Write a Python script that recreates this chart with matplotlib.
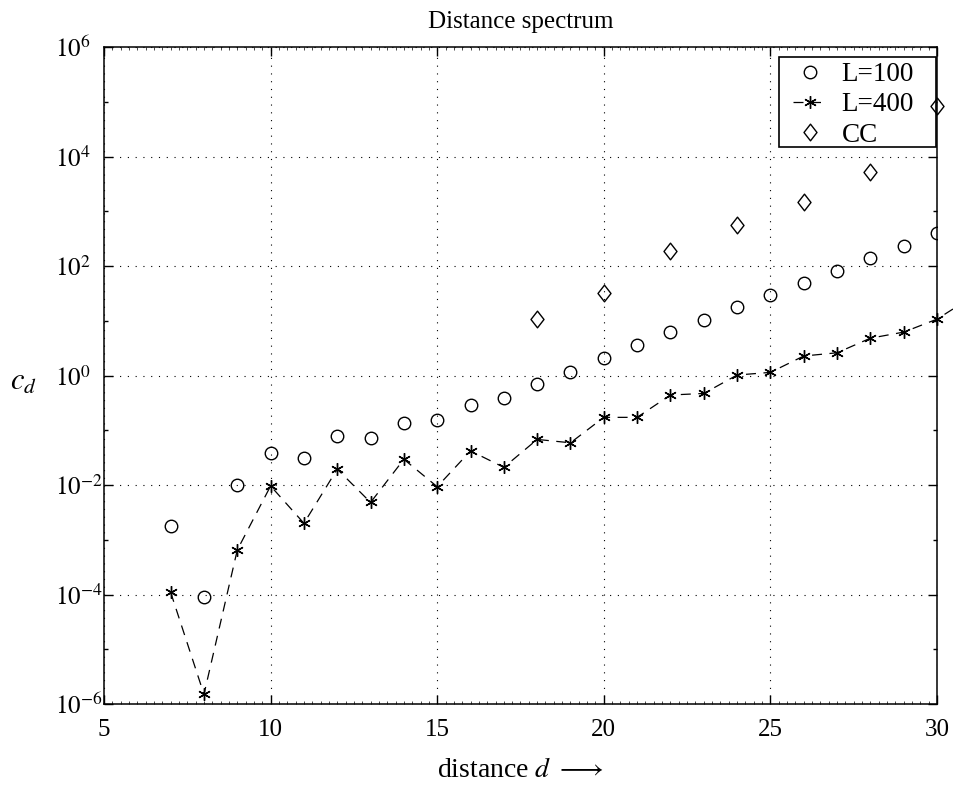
import numpy as np
import matplotlib
matplotlib.use("Agg")
import matplotlib.pyplot as plt
from matplotlib.ticker import FixedLocator, NullFormatter, MultipleLocator
from matplotlib.path import Path
from matplotlib.patches import Rectangle

plt.rcParams['font.family'] = ['Liberation Serif', 'DejaVu Serif']
plt.rcParams['mathtext.fontset'] = 'stix'

d_L100 = list(range(7, 31))
c_L100 = [1.8e-3, 9e-5, 1.0e-2, 0.038, 0.031, 0.079, 0.073, 0.137, 0.155, 0.285,
          0.385, 0.69, 1.17, 2.1, 3.6, 6.2, 10.5, 17.5, 29, 48, 82, 140, 235, 405]

d_L400 = list(range(7, 32))
c_L400 = [1.1e-4, 1.5e-6, 6.5e-4, 9.6e-3, 2.0e-3, 0.0195, 4.8e-3, 0.0295, 9.3e-3, 0.042,
          0.021, 0.068, 0.059, 0.172, 0.172, 0.44, 0.47, 1.02, 1.14, 2.27,
          2.6, 4.8, 6.2, 10.7, 26]

d_CC = [18, 20, 22, 24, 26, 28, 30]
c_CC = [10.7, 31.6, 190, 560, 1450, 5150, 85000]

ytick_exps = list(range(-6, 7, 2))

W, H = 954, 785
diamond = Path([(0, 1), (0.78, 0), (0, -1), (-0.78, 0), (0, 1)],
               [Path.MOVETO, Path.LINETO, Path.LINETO, Path.LINETO, Path.CLOSEPOLY])

fig = plt.figure(figsize=(W/100, H/100), dpi=100)
ax = fig.add_axes([104/W, 1-704/H, (937-104)/W, (704-47)/H])

ax.plot(d_L100, c_L100, linestyle='none', marker='o', markersize=9,
        markerfacecolor='none', markeredgecolor='black', markeredgewidth=1.0, label='L=100')
ax.plot(d_L400, c_L400, linestyle=(0, (8, 6)), color='black', linewidth=0.9,
        marker=(6, 2, 0), markersize=9, markeredgewidth=1.0, label='L=400', clip_on=False)
ax.plot(d_CC, c_CC, linestyle='none', marker=diamond, markersize=12,
        markerfacecolor='none', markeredgecolor='black', markeredgewidth=1.0, label='CC',
        clip_on=False, zorder=6)

ax.set_yscale('log')
ax.set_xlim(5, 30)
ax.set_ylim(1e-6, 1e6)
ax.set_xticks([5, 10, 15, 20, 25, 30])
ax.yaxis.set_major_locator(FixedLocator([10.0**k for k in ytick_exps]))
ax.yaxis.set_minor_locator(FixedLocator([10.0**k for k in range(-5, 6, 2)]))
ax.yaxis.set_minor_formatter(NullFormatter())
ax.xaxis.set_minor_locator(MultipleLocator(0.25))
ax.set_yticklabels([r'$10^{%d}$' % k for k in ytick_exps])

ax.tick_params(which='both', direction='in', top=True, right=True, labelsize=18)
ax.tick_params(axis='x', which='major', length=6.5, width=1, pad=11)
ax.tick_params(axis='x', which='minor', length=2, width=0.5)
ax.tick_params(axis='y', which='major', length=6.5, width=1, pad=35)
ax.tick_params(axis='y', which='minor', length=3, width=1)
for lab in ax.get_yticklabels():
    lab.set_horizontalalignment('left')
for s in ax.spines.values():
    s.set_linewidth(1.1)

ax.grid(True, which='major', linestyle=(0, (1, 6)), color='black', linewidth=0.8)

ax.set_title('Distance spectrum', fontsize=18, pad=14)
ax.set_xlabel(r'distance $d$ $\longrightarrow$', fontsize=20, labelpad=12)
ax.set_ylabel(r'$c_d$', fontsize=22, rotation=0, va='center', ha='center')
ax.yaxis.set_label_coords(-0.097, 0.489)

# legend frame drawn as a separate box, legend entries without frame
box = Rectangle((779/W, 1-147/H), 157/W, 90/H, transform=fig.transFigure,
                facecolor='white', edgecolor='black', linewidth=1.2,
                zorder=4.5, clip_on=False)
ax.add_patch(box)
leg = ax.legend(loc='upper left', bbox_to_anchor=(793/W, 1-62/H),
                bbox_transform=fig.transFigure, fontsize=19.5, frameon=False,
                borderaxespad=0.0, handlelength=1.25, handletextpad=0.55,
                labelspacing=0.2, borderpad=0.0)

fig.savefig('out.png', dpi=100)
